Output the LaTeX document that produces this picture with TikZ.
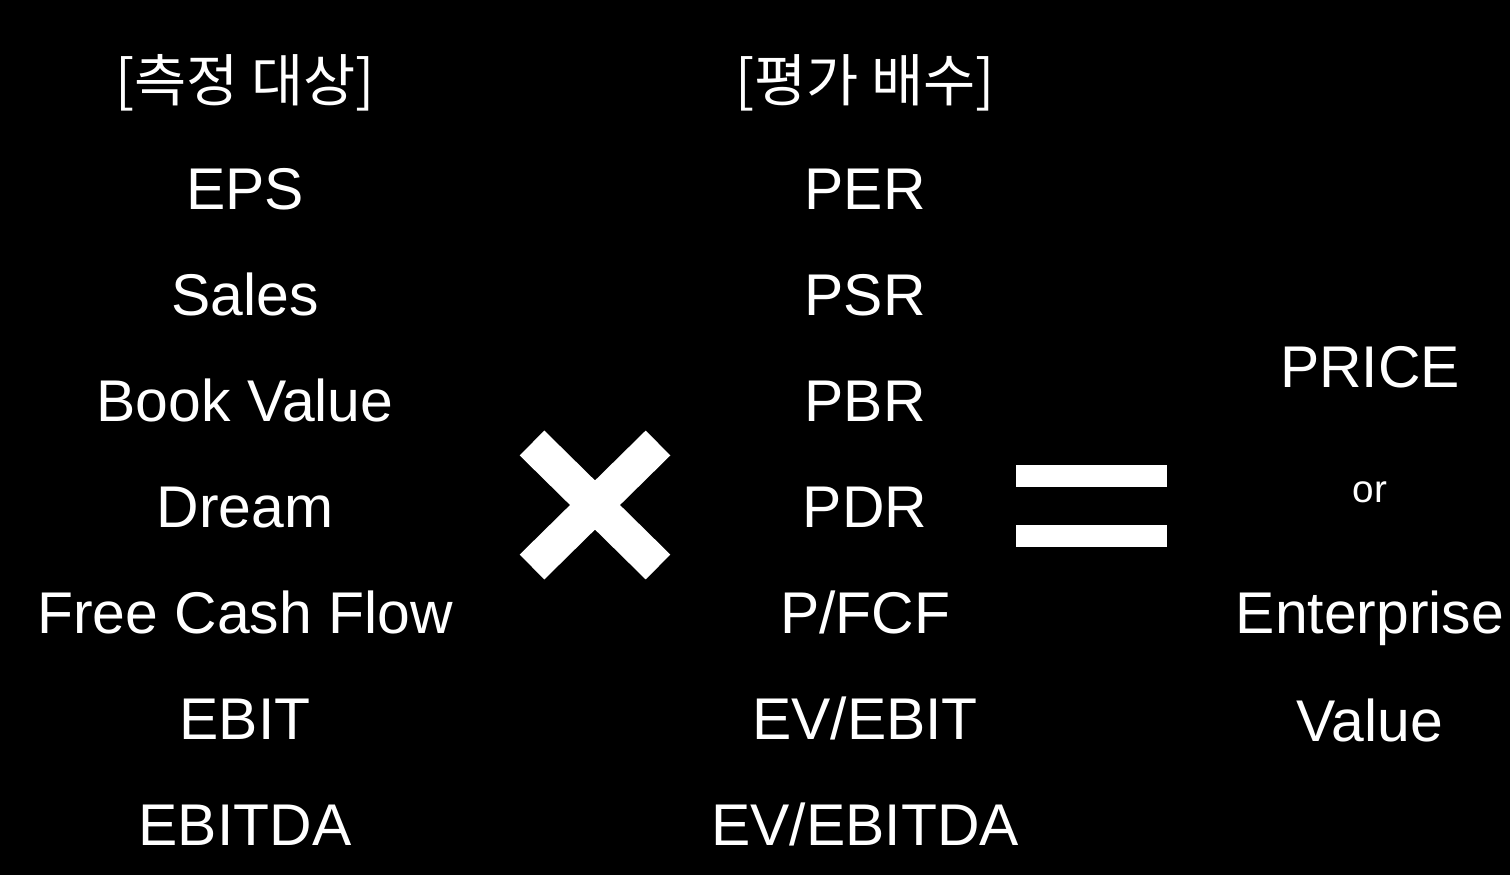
\documentclass[tikz,border=0pt]{standalone}
\usepackage{fontspec}
\setmainfont{Liberation Sans}
\newfontfamily\krfont{Noto Sans CJK KR}
\usetikzlibrary{positioning}

\begin{document}
\begin{tikzpicture}[
    x=0.02cm, y=-0.02cm,
    item_text/.style={text=white, anchor=base, inner sep=0pt, font=\fontsize{33.5}{40}\selectfont},
    head_text/.style={text=white, anchor=base, inner sep=0pt, font=\krfont\fontsize{32.3}{38}\selectfont},
    small_text/.style={text=white, anchor=base, inner sep=0pt, font=\fontsize{22}{26}\selectfont},
    op_bar/.style={white, line width=0.7cm},
    op_fill/.style={fill=white, draw=none}
]

    % Hintergrund
    \fill[black] (0,0) rectangle (1510,875);
    \useasboundingbox (0,0) rectangle (1510,875);

    % ======================================================================
    % LINKS: MESSGROESSEN
    % ======================================================================
    \node[head_text] (measure) at (245,102) {[측정 대상]};
    \foreach \txt [count=\i] in {EPS, Sales, Book Value, Dream, Free Cash Flow, EBIT, EBITDA}
        \node[item_text] (meas-\i) at (245, {103 + 106*\i}) {\txt};

    % ======================================================================
    % MAL-ZEICHEN
    % ======================================================================
    \coordinate (xa) at (532,443);
    \coordinate (xb) at (658,567);
    \coordinate (xc) at (658,443);
    \coordinate (xd) at (532,567);
    \draw[op_bar] (xa) -- (xb);
    \draw[op_bar] (xc) -- (xd);

    % ======================================================================
    % MITTE: MULTIPLIKATOREN
    % ======================================================================
    \node[head_text] (multiple) at (865,102) {[평가 배수]};
    \foreach \txt [count=\i] in {PER, PSR, PBR, PDR, P/FCF, EV/EBIT, EV/EBITDA}
        \node[item_text] (mult-\i) at (865, {103 + 106*\i}) {\txt};

    % ======================================================================
    % GLEICH-ZEICHEN
    % ======================================================================
    \fill[op_fill] (1016,465) rectangle (1167,487);
    \fill[op_fill] (1016,525) rectangle (1167,547);

    % ======================================================================
    % RECHTS: ERGEBNIS
    % ======================================================================
    \node[item_text] (price) at (1370,387) {PRICE};
    \node[small_text] (or) at (1370,502) {or};
    \node[item_text] (enterprise) at (1370,633) {Enterprise};
    \node[item_text] (value) at (1370,741) {Value};

\end{tikzpicture}
\end{document}
